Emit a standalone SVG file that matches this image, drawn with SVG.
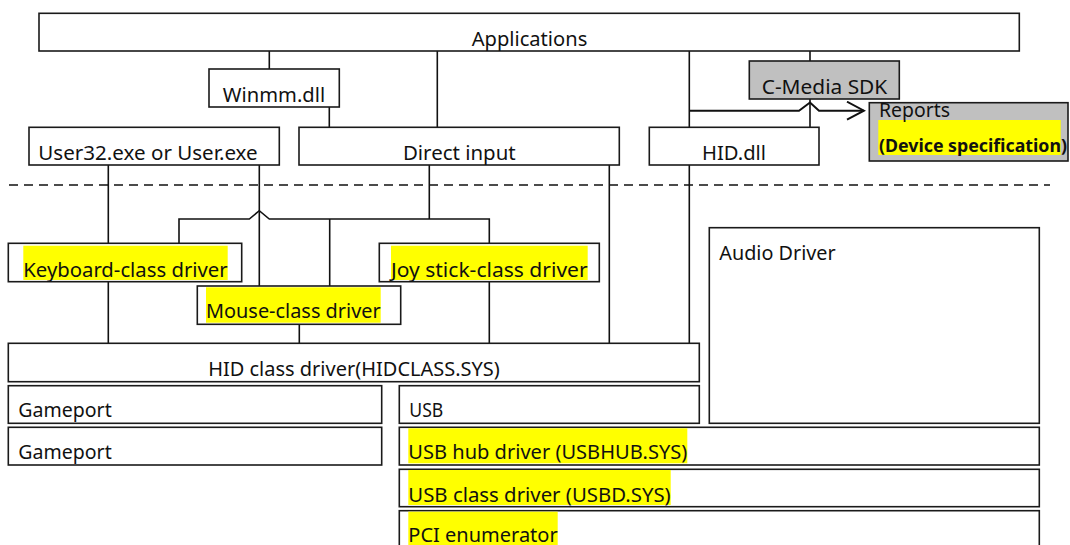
<svg xmlns="http://www.w3.org/2000/svg" width="1070" height="545" viewBox="0 0 1070 545">
<style>
.box{fill:#ffffff;stroke:#1a1a1a;stroke-width:1.6}
.gray{fill:#c0c0c0;stroke:#1a1a1a;stroke-width:1.6}
.hl{fill:#ffff00;stroke:none}
.t{font-family:"Noto Sans","Liberation Sans",sans-serif;font-size:20px;fill:#111111}
.c{text-anchor:middle}
.b{font-weight:bold;font-size:17.5px}
.ln{fill:none;stroke:#111111;stroke-width:1.6}
</style>
<defs>
<marker id="chev" viewBox="0 0 20 20" refX="18" refY="10" markerWidth="20" markerHeight="20" markerUnits="userSpaceOnUse" orient="auto">
<path d="M1,1 L18,10 L1,19" fill="none" stroke="#111111" stroke-width="2"/>
</marker>
</defs>
<rect width="1070" height="545" fill="#ffffff"/>
<path d="M9,185 H1050" fill="none" stroke="#111111" stroke-width="1.4" stroke-dasharray="9 6"/>
<g id="connectors" class="ln">
<path d="M269.3,51 V69"/>
<path d="M329.3,107 V127.3"/>
<path d="M437.3,51 V127.3"/>
<path d="M689.3,51 V127.3"/>
<path d="M810,51 V61"/>
<path d="M810,99 V127.3"/>
<path d="M689.3,110.7 H799 L810,102.5 L819,110.7 H864" stroke-width="2" marker-end="url(#chev)"/>
<path d="M108.3,165 V243.3"/>
<path d="M259.3,165 V286"/>
<path d="M429.3,165 V219"/>
<path d="M179,243.3 V219 H249.3 L259.3,210.7 L269.3,219 H489.3 V243.3"/>
<path d="M329.7,219 V286"/>
<path d="M108.3,281.7 V343.3"/>
<path d="M299.3,324.3 V343.3"/>
<path d="M489.3,281.7 V343.3"/>
<path d="M609.3,165 V343.3"/>
<path d="M689.3,165 V343.3"/>
</g>
<g id="applications">
<rect class="box" x="39" y="13.3" width="980.3" height="37.7"/>
<text class="t c" x="529.5" y="45.7" textLength="115.6" lengthAdjust="spacingAndGlyphs">Applications</text>
</g>
<g id="winmm">
<rect class="box" x="209" y="69" width="130.3" height="38"/>
<text class="t c" x="274" y="101.7" textLength="102.3" lengthAdjust="spacingAndGlyphs">Winmm.dll</text>
</g>
<g id="cmedia">
<rect class="gray" x="749.3" y="61" width="150" height="38"/>
<text class="t c" x="824.5" y="93.7" textLength="125.6" lengthAdjust="spacingAndGlyphs">C-Media SDK</text>
</g>
<g id="reports">
<rect class="gray" x="869.3" y="102.7" width="198.7" height="58.3"/>
<rect class="hl" x="878.3" y="120" width="182.4" height="35"/>
<text class="t" x="879" y="116.7" textLength="71" lengthAdjust="spacingAndGlyphs">Reports</text>
<text class="t b" x="879" y="151.7" textLength="188" lengthAdjust="spacingAndGlyphs">(Device specification)</text>
</g>
<g id="user32">
<rect class="box" x="29" y="127.3" width="250.3" height="37.7"/>
<text class="t" x="38.3" y="160" textLength="219.4" lengthAdjust="spacingAndGlyphs">User32.exe or User.exe</text>
</g>
<g id="directinput">
<rect class="box" x="299" y="127.3" width="320.3" height="37.7"/>
<text class="t c" x="459.3" y="160" textLength="112.7" lengthAdjust="spacingAndGlyphs">Direct input</text>
</g>
<g id="hiddll">
<rect class="box" x="649.3" y="127.3" width="169.7" height="37.7"/>
<text class="t c" x="734" y="160" textLength="64" lengthAdjust="spacingAndGlyphs">HID.dll</text>
</g>
<g id="keyboard">
<rect class="box" x="8.3" y="243.3" width="233.4" height="38.4"/>
<rect class="hl" x="23.3" y="245.7" width="204.4" height="34.3"/>
<text class="t c" x="125.5" y="276.7" textLength="204.4" lengthAdjust="spacingAndGlyphs">Keyboard-class driver</text>
</g>
<g id="joystick">
<rect class="box" x="379.3" y="243.3" width="220" height="38.4"/>
<rect class="hl" x="391" y="245.7" width="196.7" height="34.3"/>
<text class="t c" x="489.3" y="276.7" textLength="196.7" lengthAdjust="spacingAndGlyphs">Joy stick-class driver</text>
</g>
<g id="mouse">
<rect class="box" x="197.3" y="286" width="203.4" height="38.3"/>
<rect class="hl" x="206" y="287.3" width="174.7" height="35.4"/>
<text class="t" x="206" y="318.3" textLength="174.7" lengthAdjust="spacingAndGlyphs">Mouse-class driver</text>
</g>
<g id="audio">
<rect class="box" x="709.3" y="227.7" width="330" height="195.6"/>
<text class="t" x="719.3" y="260" textLength="116.4" lengthAdjust="spacingAndGlyphs">Audio Driver</text>
</g>
<g id="hidclass">
<rect class="box" x="8.3" y="343.3" width="691" height="38.4"/>
<text class="t c" x="354" y="376" textLength="291.7" lengthAdjust="spacingAndGlyphs">HID class driver(HIDCLASS.SYS)</text>
</g>
<g id="gameport1">
<rect class="box" x="8.3" y="385.7" width="373.4" height="37.6"/>
<text class="t" x="18.3" y="417.3" textLength="93.4" lengthAdjust="spacingAndGlyphs">Gameport</text>
</g>
<g id="gameport2">
<rect class="box" x="8.3" y="427.3" width="373.4" height="37.7"/>
<text class="t" x="18.3" y="459.3" textLength="93.4" lengthAdjust="spacingAndGlyphs">Gameport</text>
</g>
<g id="usb">
<rect class="box" x="399.3" y="385.7" width="300" height="37.6"/>
<text class="t" x="409.3" y="417.3" textLength="34" lengthAdjust="spacingAndGlyphs">USB</text>
</g>
<g id="usbhub">
<rect class="box" x="399.3" y="427.3" width="640" height="37.7"/>
<rect class="hl" x="408.3" y="428.3" width="279" height="35"/>
<text class="t" x="408.3" y="459.3" textLength="279" lengthAdjust="spacingAndGlyphs">USB hub driver (USBHUB.SYS)</text>
</g>
<g id="usbclass">
<rect class="box" x="399.3" y="469.3" width="640" height="37.4"/>
<rect class="hl" x="408.3" y="470" width="262.4" height="35"/>
<text class="t" x="408.3" y="501.7" textLength="262.4" lengthAdjust="spacingAndGlyphs">USB class driver (USBD.SYS)</text>
</g>
<g id="pci">
<rect class="box" x="399.3" y="510.7" width="640" height="45"/>
<rect class="hl" x="408.3" y="511.7" width="149.4" height="40"/>
<text class="t" x="408.3" y="541.5" textLength="149.4" lengthAdjust="spacingAndGlyphs">PCI enumerator</text>
</g>
</svg>
